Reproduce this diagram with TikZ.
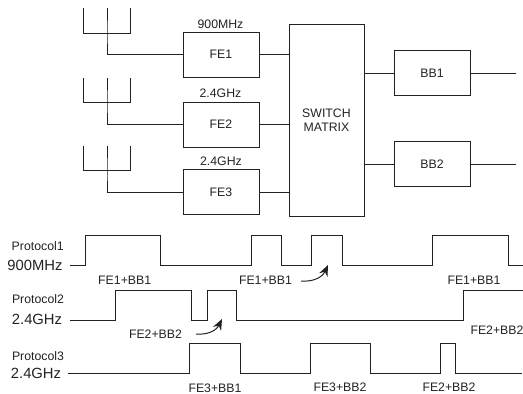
\documentclass[tikz,border=0pt]{standalone}
\usepackage{fontspec}
\setmainfont{Liberation Sans}
\usetikzlibrary{arrows.meta}
\definecolor{ink}{HTML}{222222}
\tikzset{
  px/.style={x=1pt,y=-1pt},
  wire/.style={draw=ink,line width=1pt,line join=miter},
  blockbox/.style={draw=ink,line width=1pt,minimum width=76pt,minimum height=45pt,inner sep=0pt,font=\fontsize{12.3}{14}\selectfont,text=ink,align=center},
  lbl/.style={inner sep=0pt,font=\fontsize{12.3}{14}\selectfont,text=ink},
  biglbl/.style={inner sep=0pt,font=\fontsize{14.8}{16}\selectfont,text=ink},
  curvearrow/.style={draw=ink,line width=1pt,-{Stealth[length=11pt,width=9pt]}}
}
\begin{document}
\begin{tikzpicture}[px]
\useasboundingbox (0,0) rectangle (523,394);
\clip (0,0) rectangle (523,394);
% blocks
\node[blockbox] (fe1) at (221,54.5) {FE1};
\node[blockbox] (fe2) at (221,124.5) {FE2};
\node[blockbox] (fe3) at (221,192) {FE3};
\node[blockbox,minimum height=192pt,minimum width=75pt] (sw) at (326.5,120) {SWITCH\\[-0.5pt]MATRIX};
\node[blockbox] (bb1) at (432,73) {BB1};
\node[blockbox] (bb2) at (432,164) {BB2};
\node[lbl] (f1) at (220.5,24) {900MHz};
\node[lbl] (f2) at (220.5,93) {2.4GHz};
\node[lbl] (f3) at (221,161) {2.4GHz};
% antennas
\foreach \n/\t/\b in {1/8/33,2/78/102,3/146/170}{
  \coordinate (a\n l) at (83,\t);
  \coordinate (a\n m) at (107,\t);
  \coordinate (a\n r) at (130,\t);
  \coordinate (a\n bl) at (83,\b);
  \coordinate (a\n bm) at (107,\b);
  \coordinate (a\n br) at (130,\b);
  \draw[wire] (a\n l) -- (a\n bl) -- (a\n br) -- (a\n r);
  \draw[wire] (a\n m) -- (a\n bm) |- (fe\n.west);
  \draw[wire] (fe\n.east) -- (sw.west |- fe\n.east);
}
\coordinate (o1) at (516,73);
\coordinate (o2) at (516,164);
\draw[wire] (sw.east |- bb1.west) -- (bb1.west);
\draw[wire] (sw.east |- bb2.west) -- (bb2.west);
\draw[wire] (bb1.east) -- (o1);
\draw[wire] (bb2.east) -- (o2);
% waveforms
\coordinate (p1s) at (70,265);
\coordinate (p1e) at (523,265);
\coordinate (p2s) at (70,320.5);
\coordinate (p2e) at (523,290.5);
\coordinate (p3s) at (68,373);
\coordinate (p3e) at (522,373);
\draw[wire] (p1s) -- (85,265) -- (85,235) -- (160,235) -- (160,265) -- (251,265) -- (251,235) -- (281,235) -- (281,265) -- (311,265) -- (311,235) -- (342,235) -- (342,265) -- (432,265) -- (432,235) -- (508,235) -- (508,265) -- (p1e);
\draw[wire] (p2s) -- (115,320.5) -- (115,290.5) -- (191,290.5) -- (191,320.5) -- (207,320.5) -- (207,290.5) -- (236,290.5) -- (236,320.5) -- (463,320.5) -- (463,290.5) -- (p2e);
\draw[wire] (p3s) -- (189,373) -- (189,343) -- (240,343) -- (240,373) -- (310,373) -- (310,343) -- (370,343) -- (370,373) -- (440,373) -- (440,343) -- (455,343) -- (455,373) -- (p3e);
% labels
\node[lbl] (p1) at (37.7,246) {Protocol1};
\node[biglbl] (q1) at (35,265) {900MHz};
\node[lbl] (p2) at (38,299) {Protocol2};
\node[biglbl] (q2) at (37,319) {2.4GHz};
\node[lbl] (p3) at (38,356) {Protocol3};
\node[biglbl] (q3) at (36,373) {2.4GHz};
\node[lbl] (l1) at (124.7,280) {FE1+BB1};
\node[lbl] (l2) at (265.5,280) {FE1+BB1};
\node[lbl] (l3) at (474,280) {FE1+BB1};
\node[lbl] (l4) at (155.5,334) {FE2+BB2};
\node[lbl] (l5) at (497,330) {FE2+BB2};
\node[lbl] (l6) at (215,388) {FE3+BB1};
\node[lbl] (l7) at (340,387) {FE3+BB2};
\node[lbl] (l8) at (449,387) {FE2+BB2};
% bent arrows
\coordinate (c1s) at (196,334);
\coordinate (c1e) at (222,319);
\coordinate (c2s) at (301,281);
\coordinate (c2e) at (328,265);
\draw[curvearrow] (c1s) .. controls (207,335) and (216,331) .. (c1e);
\draw[curvearrow] (c2s) .. controls (312,282) and (322,278) .. (c2e);
\end{tikzpicture}
\end{document}
